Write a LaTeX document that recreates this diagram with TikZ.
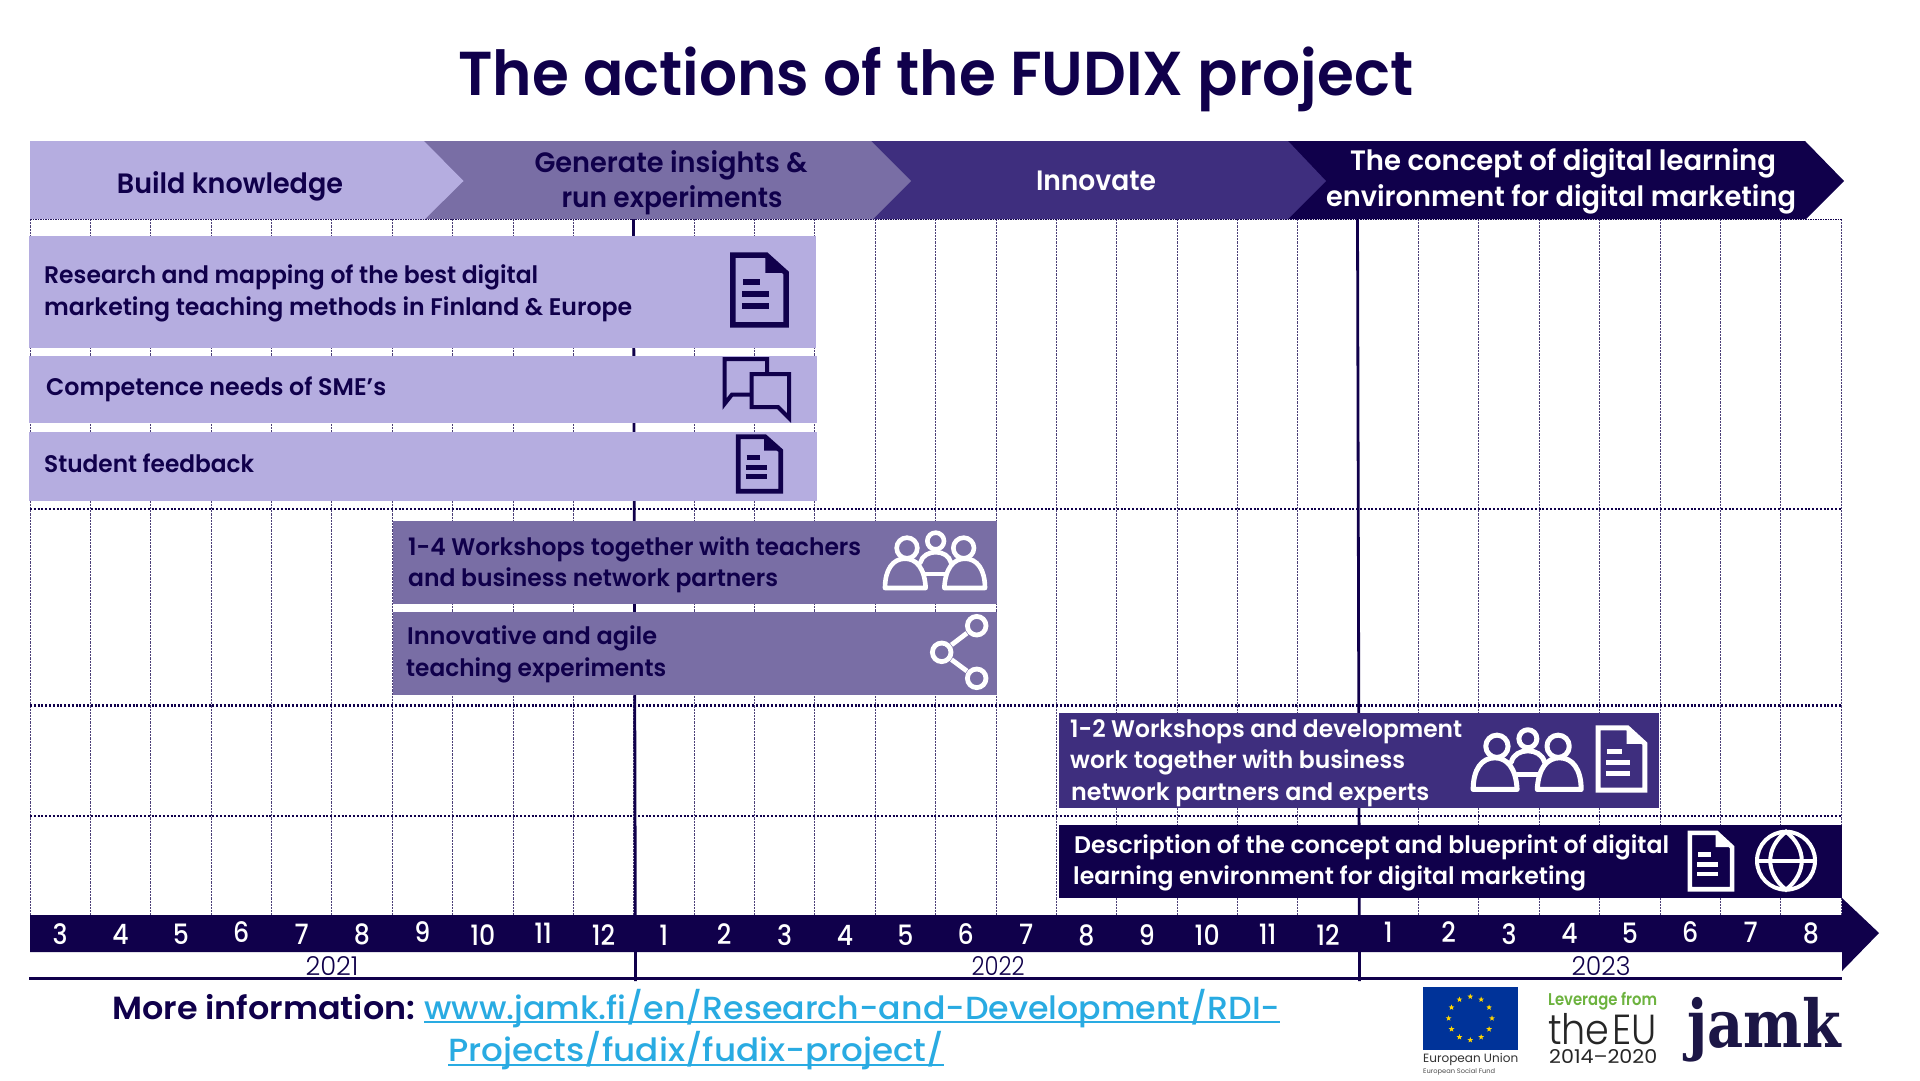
\documentclass[tikz,border=0pt]{standalone}
\usepackage{fontspec}
\usepackage{graphicx}
\usetikzlibrary{shapes.geometric,calc}
\setmainfont{Poppins}
\newfontfamily\med{Poppins Medium}
\newfontfamily\semi{Poppins SemiBold}
\newfontfamily\lite{Poppins Light}
\newfontfamily\slab{DejaVu Serif}
\definecolor{lightp}{RGB}{181,173,224}
\definecolor{midp}{RGB}{121,110,165}
\definecolor{darkp}{RGB}{62,46,126}
\definecolor{navy}{RGB}{16,0,75}
\definecolor{linkc}{RGB}{41,171,226}
\definecolor{euband}{RGB}{0,51,153}
\definecolor{eustar}{RGB}{255,214,0}
\definecolor{lever}{RGB}{109,179,63}
\definecolor{jamkc}{RGB}{28,22,70}
\newcommand\fs[1]{\fontsize{#1}{#1}\selectfont}
% name, position, colour, width, text
\newcommand\tx[6][base west]{\node[inner sep=0pt,anchor=#1,text=#4] (#2) at (#3) {\resizebox{#5pt}{\height}{#6}};}
% document icon: x y w h colour lw
\newcommand\docicon[6]{%
\begin{scope}[shift={(#1,#2)},x=#3pt,y=-#4pt,draw=#5,line width=#6pt,line join=miter]
\draw (0.04,0.03) -- (0.62,0.03) -- (0.96,0.27) -- (0.96,0.97) -- (0.04,0.97) -- cycle;
\fill[#5] (0.6,0.03) -- (0.6,0.27) -- (0.96,0.27) -- cycle;
\draw (0.22,0.39) -- (0.5,0.39);
\draw (0.2,0.555) -- (0.66,0.555);
\draw (0.2,0.717) -- (0.66,0.717);
\end{scope}}
% people icon: x y scale colour lw (local units: 312x176)
\newcommand\peopleicon[5]{%
\begin{scope}[shift={(#1,#2)},x=#3pt,y=-#3pt,draw=#4,line width=#5pt,line join=round,line cap=round]
\draw (72,48) circle[radius=31];
\draw (242,48) circle[radius=31];
\draw (158,27) circle[radius=25];
\draw (6,168) .. controls (6,112) and (30,80) .. (66,80) .. controls (100,80) and (125,108) .. (128,168) -- cycle;
\draw (184,168) .. controls (187,108) and (212,80) .. (246,80) .. controls (282,80) and (306,112) .. (306,168) -- cycle;
\draw (112,92) .. controls (122,50) and (194,50) .. (204,92);
\draw (128,126) -- (186,126);
\end{scope}}
\tikzset{
  gridv/.style={draw=navy!75,line width=0.8pt,dash pattern=on 2.2pt off 1pt},
  gridh/.style={draw=navy,line width=2.4pt,dash pattern=on 1.9pt off 1.9pt},
  yearline/.style={draw=navy,line width=2.8pt},
  shareic/.style={draw=white,line width=4.8pt}
}
\begin{document}
\begin{tikzpicture}[x=1pt,y=-1pt]
\useasboundingbox (0,0) rectangle (1920,1080);
\fill[white] (0,0) rectangle (1920,1080);

% grid
\foreach \i in {0,...,30}{\draw[gridv] ({30+60.37*\i},219) -- ({30+60.37*\i},915);}
\foreach \yy in {509,705.5,816}{\draw[gridh] (30,\yy) -- (1842,\yy);}
\draw[draw=navy,line width=1.4pt,dash pattern=on 1.5pt off 1pt] (30,219.5) -- (1842,219.5);
\coordinate (ya) at (633.5,219);
\coordinate (yb) at (635.5,981);
\coordinate (yc) at (1357.5,219);
\coordinate (yd) at (1359.5,981);
\draw[yearline] (ya) -- (yb);
\draw[yearline] (yc) -- (yd);

% header arrows
\fill[navy] (1280,141) -- (1805,141) -- (1844,181) -- (1806,219) -- (1280,219) -- cycle;
\fill[darkp] (860,141) -- (1288,141) -- (1326,181) -- (1288,219) -- (860,219) -- cycle;
\fill[midp] (415,141) -- (871,141) -- (911,181) -- (873,219) -- (415,219) -- cycle;
\fill[lightp] (30,141) -- (424,141) -- (463.5,181) -- (425,219) -- (30,219) -- cycle;
\tx[base]{h1}{230,193}{navy}{226}{\semi\fs{28}Build knowledge}
\tx[base]{h2a}{671,172}{navy}{273}{\semi\fs{28}Generate insights \&}
\tx[base]{h2b}{672,207}{navy}{221}{\semi\fs{28}run experiments}
\tx[base]{h3}{1096,190}{white}{120}{\semi\fs{28}Innovate}
\tx[base]{h4a}{1563,170}{white}{426}{\semi\fs{28}The concept of digital learning}
\tx[base]{h4b}{1561,206}{white}{470}{\semi\fs{28}environment for digital marketing}

% title
\tx{title}{458,95}{navy}{955}{\semi\fs{62}The actions of the FUDIX project}

% bars
\fill[lightp] (29,236) rectangle (816,348);
\fill[lightp] (29,355.5) rectangle (817,423);
\fill[lightp] (29,432) rectangle (817,500.5);
\fill[midp] (393,521) rectangle (997,603.5);
\fill[midp] (393,612) rectangle (997,695);
\fill[darkp] (1059,713) rectangle (1659,808);
\fill[navy] (1059,825) rectangle (1842,898);

% bar texts
\tx{r1a}{44,283}{navy}{494}{\semi\fs{24}Research and mapping of the best digital}
\tx{r1b}{44,315}{navy}{588}{\semi\fs{24}marketing teaching methods in Finland \& Europe}
\tx{r2}{46,395}{navy}{340}{\semi\fs{24}Competence needs of SME’s}
\tx{r3}{44,472}{navy}{210}{\semi\fs{24}Student feedback}
\tx{r4a}{408,555}{navy}{453}{\semi\fs{24}1-4 Workshops together with teachers}
\tx{r4b}{408,586}{navy}{370}{\semi\fs{24}and business network partners}
\tx{r5a}{407,644}{navy}{250}{\semi\fs{24}Innovative and agile}
\tx{r5b}{406,676}{navy}{260}{\semi\fs{24}teaching experiments}
\tx{r6a}{1070,737}{white}{392}{\semi\fs{24}1-2 Workshops and development}
\tx{r6b}{1070,768}{white}{335}{\semi\fs{24}work together with business}
\tx{r6c}{1071,800}{white}{358}{\semi\fs{24}network partners and experts}
\tx{r7a}{1074,853}{white}{595}{\semi\fs{24}Description of the concept and blueprint of digital}
\tx{r7b}{1073,884}{white}{513}{\semi\fs{24}learning environment for digital marketing}

% icons
\docicon{730.5}{253}{58}{74}{navy}{5.5}
\docicon{736.5}{435}{46}{58}{navy}{4.8}
\docicon{1596}{726}{51}{66}{white}{5}
\docicon{1688}{831}{46}{60}{white}{4.6}
\draw[navy,line width=4pt,line join=miter] (767,373) -- (767,359) -- (724.5,359) -- (724.5,404) -- (732,394.5) -- (750,394.5);
\draw[navy,line width=4pt,line join=miter] (751.5,374) -- (789,374) -- (789,418) -- (778,407) -- (751.5,407) -- cycle;
\peopleicon{883}{532}{0.3333}{white}{4.6}
\peopleicon{1471}{729}{0.36}{white}{5}
% share
\coordinate (sa) at (976.7,625.7);
\coordinate (sb) at (941.7,652.3);
\coordinate (sc) at (976.7,678.3);
\draw[shareic] (sa) circle[radius=9.3];
\draw[shareic] (sb) circle[radius=9.3];
\draw[shareic] (sc) circle[radius=9.3];
\draw[shareic] ($(sa)!0.28!(sb)$) -- ($(sa)!0.72!(sb)$);
\draw[shareic] ($(sb)!0.28!(sc)$) -- ($(sb)!0.72!(sc)$);
% globe
\coordinate (gc) at (1786,860.7);
\draw[white,line width=4pt] (gc) circle[radius=29];
\draw[white,line width=4pt] (1757,860.7) -- (1815,860.7);
\draw[white,line width=4pt] (1786,831.7) .. controls (1765,848) and (1765,873) .. (1786,889.7) .. controls (1807,873) and (1807,848) .. (1786,831.7) -- cycle;

% timeline
\fill[navy] (30,915) -- (1842,915) -- (1842,898) -- (1879,933) -- (1842,971) -- (1842,952) -- (30,952) -- cycle;
\foreach \m/\d [count=\c] in {3/0,4/0,5/0,6/-2,7/0,8/0,9/-2,10/1,11/-1,12/1,1/1,2/0,3/1,4/1,5/1,6/0,7/0,8/1,9/1,10/1,11/0,12/1,1/-2,2/-2,3/0,4/-1,5/-1,6/-2,7/-2,8/-1}{
  \node[inner sep=0pt,anchor=base,text=white] (m\c) at ({30+60.37*(\c-0.5)},{944+\d}) {\scalebox{0.9}[1]{\med\fs{28}\m}};
}
\draw[yearline] (29,978.5) -- (1842,978.5);
\tx[base]{y21}{332,975}{navy}{53}{\lite\fs{26}2021}
\tx[base]{y22}{998,975}{navy}{53}{\lite\fs{26}2022}
\tx[base]{y23}{1601,975}{navy}{59}{\lite\fs{26}2023}

% more information
\tx{more}{112,1019}{navy}{303}{\semi\fs{32}More information:}
\tx{l1}{424,1019}{linkc}{856}{\med\fs{32}www.jamk.fi/en/Research-and-Development/RDI-}
\tx{l2}{448,1061}{linkc}{496}{\med\fs{32}Projects/fudix/fudix-project/}
\draw[linkc,line width=1.6pt] ([yshift=-3pt]l1.base west) -- ([yshift=-3pt]l1.base east);
\draw[linkc,line width=1.6pt] ([yshift=-4pt]l2.base west) -- ([yshift=-4pt]l2.base east);

% logos
\fill[euband] (1422.7,986.7) rectangle (1518.3,1050);
\foreach \a in {0,30,...,330}{
  \node[star,star points=5,star point ratio=2.4,fill=eustar,inner sep=0pt,minimum size=6pt] at ({1470.3+21.7*sin(\a)},{1018.3-21.7*cos(\a)}) {};
}
\tx{eu1}{1423,1062}{black!80}{95}{\fs{12}European Union}
\tx{eu2}{1423,1073}{black!70}{72}{\fs{6.5}European Social Fund}
\tx{lv}{1548,1005}{lever}{109}{\semi\fs{17}Leverage from}
\tx{eu3}{1548,1044}{black!85}{109}{\lite\fs{42}the\hspace{0.08em}EU}
\tx{eu4}{1549,1063}{black!85}{108}{\fs{19}2014–2020}
\tx{jm}{1687,1047}{jamkc}{154}{\slab\bfseries\fs{66}jamk}
\end{tikzpicture}
\end{document}
